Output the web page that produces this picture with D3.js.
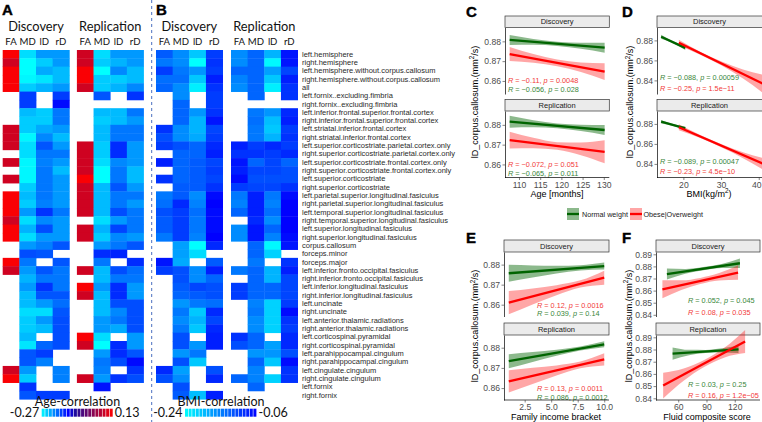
<!DOCTYPE html>
<html><head><meta charset="utf-8">
<script src="https://cdn.jsdelivr.net/npm/d3@7"></script>
<style>body{margin:0;background:#fff}svg{display:block}text{white-space:pre}</style>
</head><body><svg id="c" width="762" height="422"></svg>
<script>
// ---------------- DATA ----------------
const structures = ["left.hemisphere","right.hemisphere","left.hemisphere.without.corpus.callosum","right.hemisphere.without.corpus.callosum","all","left.fornix..excluding.fimbria","right.fornix..excluding.fimbria","left.inferior.frontal.superior.frontal.cortex","right.inferior.frontal.superior.frontal.cortex","left.striatal.inferior.frontal.cortex","right.striatal.inferior.frontal.cortex","left.superior.corticostriate.parietal.cortex.only","right.superior.corticostriate.parietal.cortex.only","left.superior.corticostriate.frontal.cortex.only","right.superior.corticostriate.frontal.cortex.only","left.superior.corticostriate","right.superior.corticostriate","left.parietal.superior.longitudinal.fasiculus","right.parietal.superior.longitudinal.fasiculus","left.temporal.superior.longitudinal.fasiculus","right.temporal.superior.longitudinal.fasiculus","left.superior.longitudinal.fasiculus","right.superior.longitudinal.fasiculus","corpus.callosum","forceps.minor","forceps.major","left.inferior.fronto.occipital.fasiculus","right.inferior.fronto.occipital.fasiculus","left.inferior.longitudinal.fasiculus","right.inferior.longitudinal.fasiculus","left.uncinate","right.uncinate","left.anterior.thalamic.radiations","right.anterior.thalamic.radiations","left.corticospinal.pyramidal","right.corticospinal.pyramidal","left.parahippocampal.cingulum","right.parahippocampal.cingulum","left.cingulate.cingulum","right.cingulate.cingulum","left.fornix","right.fornix"];
const measures = ["FA","MD","lD","rD"];
const cohorts = ["Discovery","Replication"];

// Age correlations (null = not significant)
const ageDiscFA = [0.125,0.085,0.125,0.125,0.125,null,null,null,null,0.085,0.085,0.085,null,0.085,null,0.085,null,0.125,0.125,0.125,0.085,0.125,0.125,null,null,0.125,0.085,null,null,null,null,null,null,null,null,null,null,null,0.085,0.125,null,null];
const ageDiscMD = [-0.25,-0.27,-0.27,-0.265,-0.24,-0.155,-0.155,-0.23,-0.24,-0.24,-0.265,-0.25,-0.25,-0.265,-0.265,-0.265,-0.24,-0.23,-0.24,-0.21,-0.25,-0.225,-0.25,-0.21,-0.165,-0.19,-0.21,-0.225,-0.21,-0.23,-0.23,-0.25,-0.24,-0.24,-0.23,-0.255,-0.17,-0.17,-0.21,-0.24,-0.15,-0.17];
const ageDiscLD = [-0.21,-0.24,-0.22,-0.255,-0.225,null,null,-0.24,-0.24,-0.22,-0.2,-0.17,-0.19,-0.195,-0.19,-0.19,-0.19,-0.19,-0.195,-0.15,-0.2,-0.165,-0.21,-0.195,-0.17,null,-0.17,-0.19,-0.15,-0.17,-0.21,-0.25,-0.21,-0.23,null,-0.18,-0.155,-0.195,null,null,null,-0.155];
const ageDiscRD = [-0.21,-0.21,-0.23,-0.23,-0.21,-0.155,-0.125,-0.19,-0.19,-0.21,-0.23,-0.21,-0.19,-0.21,-0.23,-0.21,-0.21,-0.21,-0.21,-0.19,-0.21,-0.21,-0.21,-0.17,null,-0.17,-0.19,-0.19,-0.19,-0.17,-0.185,-0.17,-0.165,-0.165,-0.165,-0.165,null,null,-0.195,-0.195,null,-0.155];
const ageRepFA = [0.085,0.085,0.125,0.125,0.085,null,null,null,null,null,null,0.085,0.085,0.085,0.085,0.125,0.085,0.085,0.085,0.085,null,0.085,0.085,null,null,null,0.085,null,0.125,0.085,null,null,null,null,0.125,0.085,null,null,null,0.085,null,null];
const ageRepMD = [-0.25,-0.24,-0.27,-0.24,-0.24,-0.17,null,-0.23,-0.24,-0.23,-0.23,-0.24,-0.24,-0.25,-0.27,-0.27,-0.23,-0.23,-0.23,-0.23,-0.25,-0.225,-0.24,-0.21,-0.145,-0.19,-0.23,-0.23,-0.21,-0.23,-0.23,-0.23,-0.21,-0.21,-0.25,-0.27,-0.21,-0.19,-0.195,-0.21,-0.13,null];
const ageRepLD = [-0.21,-0.225,-0.2,-0.24,-0.225,null,null,-0.23,-0.23,-0.19,-0.19,-0.145,-0.145,-0.2,-0.19,-0.19,-0.17,-0.19,-0.19,-0.165,-0.21,-0.16,-0.2,-0.19,-0.14,null,-0.165,-0.19,-0.145,-0.145,-0.165,-0.2,-0.19,-0.22,null,-0.145,-0.145,-0.165,null,-0.15,null,null];
const ageRepRD = [-0.21,-0.21,-0.23,-0.23,-0.2,-0.15,null,-0.19,-0.21,-0.19,-0.19,-0.21,-0.21,-0.21,-0.23,-0.23,-0.21,-0.19,-0.21,-0.19,-0.19,-0.19,-0.21,-0.17,null,-0.145,-0.185,-0.19,-0.21,-0.21,-0.165,-0.165,-0.165,-0.165,-0.21,-0.21,-0.17,-0.125,-0.15,-0.165,null,null];

// BMI correlations (null = not significant)
const bmiDiscFA = [-0.124,-0.145,-0.102,-0.138,-0.131,null,null,null,null,-0.095,-0.116,-0.102,null,-0.081,null,-0.095,null,-0.145,-0.138,-0.116,-0.124,-0.124,-0.145,null,null,-0.074,-0.102,null,null,null,null,null,null,null,null,null,null,null,-0.088,-0.116,null,null];
const bmiDiscMD = [-0.159,-0.159,-0.145,-0.138,-0.159,-0.159,-0.131,-0.131,-0.131,-0.159,-0.159,-0.116,-0.131,-0.131,-0.131,-0.131,-0.124,-0.124,-0.088,-0.102,-0.102,-0.102,-0.102,-0.173,-0.173,-0.18,-0.116,-0.116,-0.124,-0.131,-0.166,-0.145,-0.159,-0.145,-0.116,-0.116,-0.166,-0.116,-0.173,-0.159,-0.116,-0.124];
const bmiDiscLD = [-0.201,-0.24,-0.166,-0.201,-0.229,null,null,-0.166,-0.187,-0.187,-0.18,-0.131,-0.131,-0.124,-0.124,-0.124,-0.124,-0.159,-0.152,-0.138,-0.145,-0.145,-0.152,-0.24,-0.215,null,-0.159,-0.159,-0.109,-0.124,-0.145,-0.201,-0.187,-0.201,null,-0.166,-0.145,-0.201,null,null,null,-0.194];
const bmiDiscRD = [-0.102,-0.095,-0.102,-0.081,-0.095,-0.102,-0.102,-0.095,-0.074,-0.109,-0.102,-0.088,-0.081,-0.109,-0.102,-0.109,-0.095,-0.067,-0.06,-0.067,-0.067,-0.067,-0.06,-0.088,null,-0.124,-0.081,-0.131,-0.116,-0.116,-0.138,-0.088,-0.109,-0.088,-0.081,-0.081,null,null,-0.116,-0.088,null,-0.081];
const bmiRepFA = [-0.159,-0.159,-0.131,-0.152,-0.159,null,null,null,null,null,null,-0.081,-0.095,-0.074,-0.081,-0.067,-0.102,-0.145,-0.152,-0.131,null,-0.159,-0.159,null,null,null,-0.145,null,-0.102,-0.102,null,null,null,null,-0.095,-0.116,null,null,null,-0.131,null,null];
const bmiRepMD = [-0.131,-0.131,-0.131,-0.131,-0.131,-0.131,null,-0.145,-0.138,-0.145,-0.145,-0.102,-0.095,-0.131,-0.109,-0.116,-0.109,-0.081,-0.081,-0.081,-0.088,-0.074,-0.074,-0.131,-0.131,-0.145,-0.131,-0.131,-0.131,-0.131,-0.152,-0.145,-0.159,-0.159,-0.131,-0.131,-0.166,-0.131,-0.152,-0.152,-0.131,null];
const bmiRepLD = [-0.187,-0.236,-0.173,-0.201,-0.229,null,null,-0.166,-0.194,-0.201,-0.187,-0.088,-0.102,-0.109,-0.109,-0.116,-0.109,-0.145,-0.152,-0.138,-0.159,-0.131,-0.152,-0.236,-0.208,null,-0.187,-0.187,-0.131,-0.131,-0.208,-0.208,-0.208,-0.208,null,-0.173,-0.166,-0.201,null,-0.208,null,null];
const bmiRepRD = [-0.074,-0.074,-0.109,-0.081,-0.095,-0.095,null,-0.088,-0.081,-0.102,-0.095,-0.102,-0.088,-0.131,-0.116,-0.116,-0.095,-0.067,-0.06,-0.06,-0.06,-0.06,-0.067,-0.074,null,-0.095,-0.081,-0.109,-0.109,-0.109,-0.102,-0.067,-0.095,-0.102,-0.088,-0.088,-0.116,-0.067,-0.095,-0.095,null,null];

const ageLegend = [-0.27, 0.13];
const bmiLegend = [-0.24, -0.06];

// Regression fits: x range, fitted y at ends, CI half-width at 0,25,50,75,100% of x range
const groups = ["Normal weight","Obese|Overweight"];
const ageFits = [
 {cohort:"Discovery",group:0,x:[107.8,130.2],y:[0.8807,0.8768],hw:[0.0025,0.0015,0.0011,0.0015,0.0025]},
 {cohort:"Discovery",group:1,x:[107.8,130.2],y:[0.8736,0.8647],hw:[0.0035,0.0022,0.0017,0.0024,0.0042]},
 {cohort:"Replication",group:0,x:[107.8,130.2],y:[0.8816,0.8774],hw:[0.003,0.0018,0.0012,0.0016,0.0025]},
 {cohort:"Replication",group:1,x:[107.8,130.2],y:[0.8723,0.8664],hw:[0.0042,0.0026,0.0019,0.0032,0.0058]}];
const bmiFits = [
 {cohort:"Discovery",group:0,x:[14.1,20.5],y:[0.8837,0.8725],hw:[0.002,0.0013,0.0011,0.0013,0.002]},
 {cohort:"Discovery",group:1,x:[18.8,41.5],y:[0.8777,0.8359],hw:[0.003,0.0015,0.002,0.0045,0.0095]},
 {cohort:"Replication",group:0,x:[14.1,20.5],y:[0.8822,0.8756],hw:[0.0018,0.0012,0.001,0.0012,0.0018]},
 {cohort:"Replication",group:1,x:[18.8,41.5],y:[0.8766,0.8395],hw:[0.003,0.0015,0.0017,0.003,0.006]}];
const incomeFits = [
 {cohort:"Discovery",group:0,x:[1,10],y:[0.8757,0.8793],hw:[0.0042,0.003,0.0019,0.0013,0.0017]},
 {cohort:"Discovery",group:1,x:[1,10],y:[0.8610,0.8735],hw:[0.0058,0.004,0.0025,0.0018,0.0035]},
 {cohort:"Replication",group:0,x:[1,10],y:[0.8733,0.8817],hw:[0.0035,0.0025,0.0015,0.001,0.0015]},
 {cohort:"Replication",group:1,x:[1,10],y:[0.8633,0.8742],hw:[0.0055,0.004,0.0025,0.0017,0.003]}];
const fluidFits = [
 {cohort:"Discovery",group:0,x:[48,125.5],y:[0.8737,0.8826],hw:[0.0046,0.002,0.0013,0.0017,0.004]},
 {cohort:"Discovery",group:1,x:[43.2,123.5],y:[0.8611,0.8749],hw:[0.0075,0.004,0.0025,0.003,0.006]},
 {cohort:"Replication",group:0,x:[54,124],y:[0.8767,0.8801],hw:[0.005,0.0022,0.0013,0.0018,0.003]},
 {cohort:"Replication",group:1,x:[44,131],y:[0.8504,0.8866],hw:[0.0105,0.005,0.0028,0.004,0.0095]}];

// Correlation labels (listed top line first)
const ageStats = [
 {cohort:"Discovery",group:1,R:"\u22120.11",p:"0.0048"},{cohort:"Discovery",group:0,R:"\u22120.056",p:"0.028"},
 {cohort:"Replication",group:1,R:"\u22120.072",p:"0.051"},{cohort:"Replication",group:0,R:"\u22120.065",p:"0.011"}];
const bmiStats = [
 {cohort:"Discovery",group:0,R:"\u22120.088",p:"0.00059"},{cohort:"Discovery",group:1,R:"\u22120.25",p:"1.5e\u221211"},
 {cohort:"Replication",group:0,R:"\u22120.089",p:"0.00047"},{cohort:"Replication",group:1,R:"\u22120.23",p:"4.5e\u221210"}];
const incomeStats = [
 {cohort:"Discovery",group:1,R:"0.12",p:"0.0016"},{cohort:"Discovery",group:0,R:"0.039",p:"0.14"},
 {cohort:"Replication",group:1,R:"0.13",p:"0.0011"},{cohort:"Replication",group:0,R:"0.086",p:"0.0012"}];
const fluidStats = [
 {cohort:"Discovery",group:0,R:"0.052",p:"0.045"},{cohort:"Discovery",group:1,R:"0.08",p:"0.035"},
 {cohort:"Replication",group:0,R:"0.03",p:"0.25"},{cohort:"Replication",group:1,R:"0.16",p:"1.2e\u221205"}];

const ageXTicks = [110,115,120,125,130];
const bmiXTicks = [20,30,40];
const incomeXTicks = [2.5,5.0,7.5,10.0];
const fluidXTicks = [60,90,120];
const ageYTicks = [0.86,0.87,0.88];
const bmiYTicks = [0.84,0.86,0.88];
const incomeYTicks = [0.86,0.87,0.88];
const fluidYTicks = [0.84,0.85,0.86,0.87,0.88,0.89];

// ---------------- DRAW ----------------
const svg = d3.select("#c");
const SANS = "'Liberation Sans', Arial, sans-serif";
const HF = "Lato, 'Open Sans', sans-serif";

const ageColor = d3.scaleLinear().domain([-0.27,-0.12,-0.08,0.13]).range(["#00ffff","#0000ff","#1e0a9c","#ff0000"]).clamp(true);
const bmiColor = d3.scaleLinear().domain([-0.24,-0.06]).range(["#00ffff","#0000ff"]).clamp(true);

const rowY = d3.scaleBand().domain(structures).range([50, 399.2]);

function block(x0, cols, color, title) {
  const xs = d3.scaleBand().domain(measures).range([x0, x0 + 66.6]);
  const g = svg.append("g");
  measures.forEach((m, j) => {
    g.append("g").selectAll("rect")
      .data(structures.map((s, i) => ({s, v: cols[j][i]})).filter(d => d.v != null))
      .join("rect")
      .attr("x", xs(m)).attr("y", d => rowY(d.s))
      .attr("width", xs.bandwidth() + 0.4).attr("height", rowY.bandwidth() + 0.4)
      .attr("fill", d => color(d.v));
  });
  svg.append("text").attr("x", x0 + 33.3).attr("y", 31).attr("text-anchor","middle")
    .attr("font-family", HF).attr("font-size", 12.8).attr("fill","#111").text(title);
  measures.forEach(m => {
    svg.append("text").attr("x", xs(m) + xs.bandwidth()/2).attr("y", 45).attr("text-anchor","middle")
      .attr("font-family", HF).attr("font-size", 9.6).attr("fill","#111").text(m);
  });
}
block(2.7, [ageDiscFA, ageDiscMD, ageDiscLD, ageDiscRD], ageColor, cohorts[0]);
block(76.9, [ageRepFA, ageRepMD, ageRepLD, ageRepRD], ageColor, cohorts[1]);
block(156, [bmiDiscFA, bmiDiscMD, bmiDiscLD, bmiDiscRD], bmiColor, cohorts[0]);
block(231, [bmiRepFA, bmiRepMD, bmiRepLD, bmiRepRD], bmiColor, cohorts[1]);

svg.append("g").selectAll("text").data(structures).join("text")
  .attr("x", 302).attr("y", d => rowY(d) + rowY.bandwidth()/2)
  .attr("dominant-baseline","central").attr("font-family", SANS).attr("font-size", 7.5)
  .attr("fill","#2a2a2a").text(d => d);

// panel letters
[["A",2,15],["B",156,15],["C",466,17],["D",622,17],["E",466,243],["F",622,243]].forEach(([t,x,y]) =>
  svg.append("text").attr("x",x).attr("y",y).attr("font-family",SANS).attr("font-weight","bold")
    .attr("font-size",15).attr("fill","#000").attr("stroke","#000").attr("stroke-width",0.4).text(t));

// separator
svg.append("line").attr("x1",151.7).attr("x2",151.7).attr("y1",0).attr("y2",422)
  .attr("stroke","#4a6fc0").attr("stroke-width",1).attr("stroke-dasharray","3,3");

// colour legends
function colorLegend(range, color, x0, x1, title, lo, hi) {
  const xs = d3.scaleLinear().domain(range).range([x0, x1]);
  const n = 20, step = (range[1]-range[0])/n;
  svg.append("g").selectAll("rect").data(d3.range(n)).join("rect")
    .attr("x", i => xs(range[0] + i*step)).attr("y", 408.7)
    .attr("width", i => xs(range[0] + (i+1)*step) - xs(range[0] + i*step) - 0.6).attr("height", 8)
    .attr("fill", i => color(range[0] + (i+0.5)*step));
  svg.append("text").attr("x",(x0+x1)/2).attr("y",406).attr("text-anchor","middle")
    .attr("font-family",HF).attr("font-size",12.5).attr("fill","#111").text(title);
  svg.append("text").attr("x",x0-2.5).attr("y",417).attr("text-anchor","end")
    .attr("font-family",HF).attr("font-size",12.5).attr("fill","#111").text(lo);
  svg.append("text").attr("x",x1+1.5).attr("y",417)
    .attr("font-family",HF).attr("font-size",12.5).attr("fill","#111").text(hi);
}
colorLegend(ageLegend, ageColor, 41.7, 113.3, "Age-correlation", "-0.27", "0.13");
colorLegend(bmiLegend, bmiColor, 185, 257, "BMI-correlation", "-0.24", "-0.06");

// regression panels
const lineCol = ["#006400", "#ff0000"];
const bandOp = [0.45, 0.35];
const textCol = ["#3a873a", "#f23a3a"];
const fr = [0, 0.25, 0.5, 0.75, 1];

function regPanel(cfg) {
  const x = d3.scaleLinear().domain(cfg.xDomain).range([cfg.left, cfg.right]);
  cfg.facets.forEach((f, k) => {
    const y = d3.scaleLinear().domain(cfg.yDomain).range([f.bottom, f.top]);
    svg.append("rect").attr("x", cfg.left).attr("y", f.stripTop).attr("width", cfg.right - cfg.left)
      .attr("height", f.top - f.stripTop).attr("fill","#ebebeb").attr("stroke","#333").attr("stroke-width",0.7);
    svg.append("text").attr("x", (cfg.left + Math.min(cfg.right, 762))/2).attr("y", (f.stripTop + f.top)/2)
      .attr("dominant-baseline","central").attr("text-anchor","middle").attr("font-family",SANS)
      .attr("font-size",7.5).attr("fill","#1a1a1a").text(cohorts[k]);
    const fits = cfg.fits.filter(d => d.cohort === cohorts[k]);
    fits.forEach(d => {
      const pts = fr.map((t,i) => ({x: d.x[0] + t*(d.x[1]-d.x[0]), y: d.y[0] + t*(d.y[1]-d.y[0]), hw: d.hw[i]}));
      svg.append("path").datum(pts)
        .attr("d", d3.area().curve(d3.curveMonotoneX).x(p => x(p.x)).y0(p => y(p.y - p.hw)).y1(p => y(p.y + p.hw)))
        .attr("fill", lineCol[d.group]).attr("fill-opacity", bandOp[d.group]);
    });
    fits.forEach(d => {
      svg.append("line").attr("x1", x(d.x[0])).attr("x2", x(d.x[1]))
        .attr("y1", y(d.y[0])).attr("y2", y(d.y[1]))
        .attr("stroke", lineCol[d.group]).attr("stroke-width", 2.3);
    });
    // stats
    cfg.stats.filter(d => d.cohort === cohorts[k]).forEach((d, i) => {
      const t = svg.append("text").attr("x", cfg.left + cfg.statDx).attr("y", f.bottom - cfg.statOff[i])
        .attr("dominant-baseline","central").attr("font-family",SANS).attr("font-size",7.3)
        .attr("fill", textCol[d.group]);
      t.append("tspan").attr("font-style","italic").text("R");
      t.append("tspan").text(" = " + d.R + ", ");
      t.append("tspan").attr("font-style","italic").text("p");
      t.append("tspan").text(" = " + d.p);
    });
    // y axis
    const ga = svg.append("g").attr("transform", `translate(${cfg.left},0)`)
      .call(d3.axisLeft(y).tickValues(cfg.yTicks).tickFormat(d3.format(".2f")).tickSize(2.5).tickSizeOuter(0).tickPadding(1.5));
    styleAxis(ga);
    if (k === 1) {
      const gx = svg.append("g").attr("transform", `translate(0,${f.bottom})`)
        .call(d3.axisBottom(x).tickValues(cfg.xTicks).tickFormat(cfg.xFormat).tickSize(2.5).tickSizeOuter(0).tickPadding(1.5));
      styleAxis(gx);
      gx.select(".domain").attr("d", `M${cfg.left},0H${cfg.right}`);
      // keep labels inside the picture
      gx.selectAll(".tick").each(function(v) {
        const px = x(v);
        if (px + 5 > 762) d3.select(this).select("text").attr("text-anchor","end").attr("x", 761 - px);
      });
    }
  });
  svg.append("text").attr("x", cfg.xTitle[0]).attr("y", cfg.xTitle[1]).attr("text-anchor","middle")
    .attr("dominant-baseline","central").attr("font-family",SANS).attr("font-size",9).attr("fill","#000")
    .call(t => {
      if (cfg.xLab === "BMI") {
        t.append("tspan").text("BMI(kg/m");
        t.append("tspan").attr("font-size",6.3).attr("dy",-3.5).text("2");
        t.append("tspan").attr("dy",3.5).text(")");
      } else t.text(cfg.xLab);
    });
  const yt = svg.append("text").attr("transform", `translate(${cfg.yTitle[0]},${cfg.yTitle[1]}) rotate(-90)`)
    .attr("text-anchor","middle").attr("dominant-baseline","central").attr("font-family",SANS)
    .attr("font-size",9).attr("fill","#000");
  yt.append("tspan").text("lD_corpus.callosum.(mm");
  yt.append("tspan").attr("font-size",6.3).attr("dy",-3.5).text("2");
  yt.append("tspan").attr("dy",3.5).text("/s)");
}
function styleAxis(g) {
  g.select(".domain").attr("stroke","#000").attr("stroke-width",0.7);
  g.selectAll(".tick line").attr("stroke","#333").attr("stroke-width",0.6);
  g.selectAll(".tick text").attr("font-family",SANS).attr("font-size",8.6).attr("fill","#4d4d4d");
}

const topFacets = [{stripTop:16, top:27.5, bottom:94}, {stripTop:99.5, top:111, bottom:177.5}];
const botFacets = [{stripTop:240, top:252, bottom:316.5}, {stripTop:323, top:335, bottom:400}];

regPanel({left:505, right:609.3, xDomain:[106.7,131.3], yDomain:[0.8534,0.887], facets:topFacets,
  fits:ageFits, stats:ageStats, statDx:3, statOff:[13.8,4.6], xTicks:ageXTicks, yTicks:ageYTicks,
  xFormat:d3.format("d"), xLab:"Age [months]", xTitle:[557,194], yTitle:[474.5,102]});
regPanel({left:657, right:766.3, xDomain:[13.0,42.0], yDomain:[0.8264,0.8929], facets:topFacets,
  fits:bmiFits, stats:bmiStats, statDx:3, statOff:[17,6.2], xTicks:bmiXTicks, yTicks:bmiYTicks,
  xFormat:d3.format("d"), xLab:"BMI", xTitle:[709,193.5], yTitle:[630,102]});
regPanel({left:504, right:609, xDomain:[0.55,10.45], yDomain:[0.8541,0.8863], facets:botFacets,
  fits:incomeFits, stats:incomeStats, statDx:33, statOff:[11.8,3.1], xTicks:incomeXTicks, yTicks:incomeYTicks,
  xFormat:d3.format(".1f"), xLab:"Family income bracket", xTitle:[556,417], yTitle:[475,326]});
regPanel({left:656, right:760, xDomain:[36.4,146.8], yDomain:[0.8386,0.8919], facets:botFacets,
  fits:fluidFits, stats:fluidStats, statDx:32, statOff:[16.3,4.8], xTicks:fluidXTicks, yTicks:fluidYTicks,
  xFormat:d3.format("d"), xLab:"Fluid composite score", xTitle:[707,417], yTitle:[628.5,326]});

// group legend
const leg = [{x:567, tx:582}, {x:630, tx:643.5}];
groups.forEach((gname, i) => {
  svg.append("rect").attr("x", leg[i].x).attr("y", 208).attr("width", 12).attr("height", 12)
    .attr("fill", lineCol[i]).attr("fill-opacity", bandOp[i]);
  svg.append("line").attr("x1", leg[i].x).attr("x2", leg[i].x + 12).attr("y1", 214).attr("y2", 214)
    .attr("stroke", lineCol[i]).attr("stroke-width", 2.3);
  svg.append("text").attr("x", leg[i].tx).attr("y", 214).attr("dominant-baseline","central")
    .attr("font-family",SANS).attr("font-size",7.2).attr("fill","#1a1a1a").text(gname);
});
</script></body></html>
